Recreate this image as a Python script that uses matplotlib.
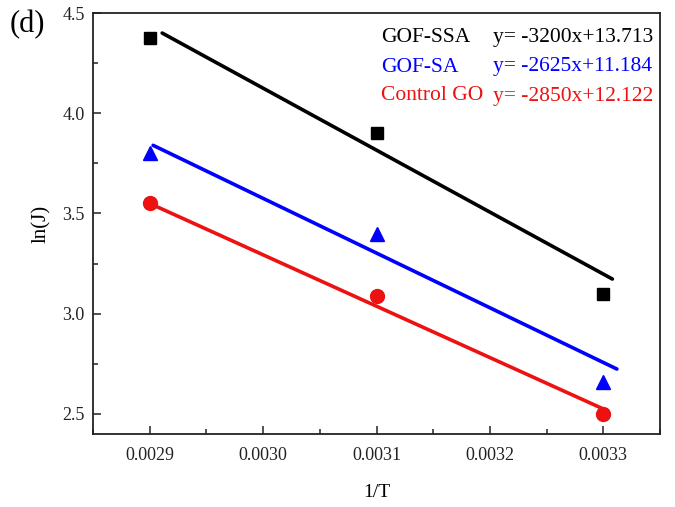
import numpy as np
import matplotlib
matplotlib.use('Agg')
from matplotlib import pyplot as plt
from matplotlib.ticker import MultipleLocator, FormatStrFormatter

plt.rcParams['font.family'] = ['Liberation Serif', 'DejaVu Serif']

# data
inv_T = [0.0029, 0.0031, 0.0033]
ln_J_ssa = [4.377, 3.90, 3.10]
ln_J_sa = [3.80, 3.40, 2.66]
ln_J_go = [3.55, 3.09, 2.50]

# fitted lines as drawn in the picture (start / end)
fit_x_ssa = [0.002911, 0.003308]
fit_y_ssa = [4.40, 3.173]
fit_x_sa = [0.002903, 0.003312]
fit_y_sa = [3.84, 2.724]
fit_x_go = [0.0029, 0.0033]
fit_y_go = [3.55, 2.525]

labels = ['GOF-SSA', 'GOF-SA', 'Control GO']
equations = ['y= -3200x+13.713', 'y= -2625x+11.184', 'y= -2850x+12.122']
colors = ['black', 'blue', '#ee1111']
markers = ['s', '^', 'o']
msizes = [9, 10.5, 10]

fig = plt.figure(figsize=(6.75, 5.07), dpi=100)
ax = fig.add_axes([93/675, 1 - 434/507, (660-93)/675, (434-13)/507])

series = [(ln_J_ssa, fit_x_ssa, fit_y_ssa),
          (ln_J_sa, fit_x_sa, fit_y_sa),
          (ln_J_go, fit_x_go, fit_y_go)]
for (ys, fx, fy), c, m, ms in zip(series, colors, markers, msizes):
    ax.plot(fx, fy, color=c, lw=2.6, solid_capstyle='round')
    ax.plot(inv_T, ys, linestyle='none', marker=m, color=c, markersize=ms)

ax.set_xlim(0.00285, 0.00335)
ax.set_ylim(2.40, 4.5)
ax.xaxis.set_major_locator(MultipleLocator(0.0001))
ax.xaxis.set_minor_locator(MultipleLocator(0.00005))
ax.xaxis.set_major_formatter(FormatStrFormatter('%.4f'))
ax.yaxis.set_major_locator(MultipleLocator(0.5))
ax.yaxis.set_minor_locator(MultipleLocator(0.25))
ax.yaxis.set_major_formatter(FormatStrFormatter('%.1f'))
ax.tick_params(which='both', direction='in', labelsize=13, width=1.2, colors='#333333', labelcolor='#222222')
ax.tick_params(axis='x', which='major', length=6, pad=9)
ax.tick_params(axis='y', which='major', length=6, pad=6)
ax.tick_params(which='minor', length=3.5)
for s in ax.spines.values():
    s.set_linewidth(1.3)
    s.set_color('#222222')

ax.set_xlabel('1/T', fontsize=14, labelpad=15)
ax.set_ylabel('ln(J)', fontsize=15, labelpad=8)

for i, (lab, eq, c) in enumerate(zip(labels, equations, colors)):
    y = 38 + i*29
    fig.text(381/675, 1 - y/507, lab, color=c, fontsize=15.5, va='center', ha='left')
    fig.text(493/675, 1 - y/507, eq, color=c, fontsize=15.5, va='center', ha='left')

fig.text(10/675, 1 - 25/507, '(d)', fontsize=22, va='center', ha='left')

fig.savefig('out.png', dpi=100)
